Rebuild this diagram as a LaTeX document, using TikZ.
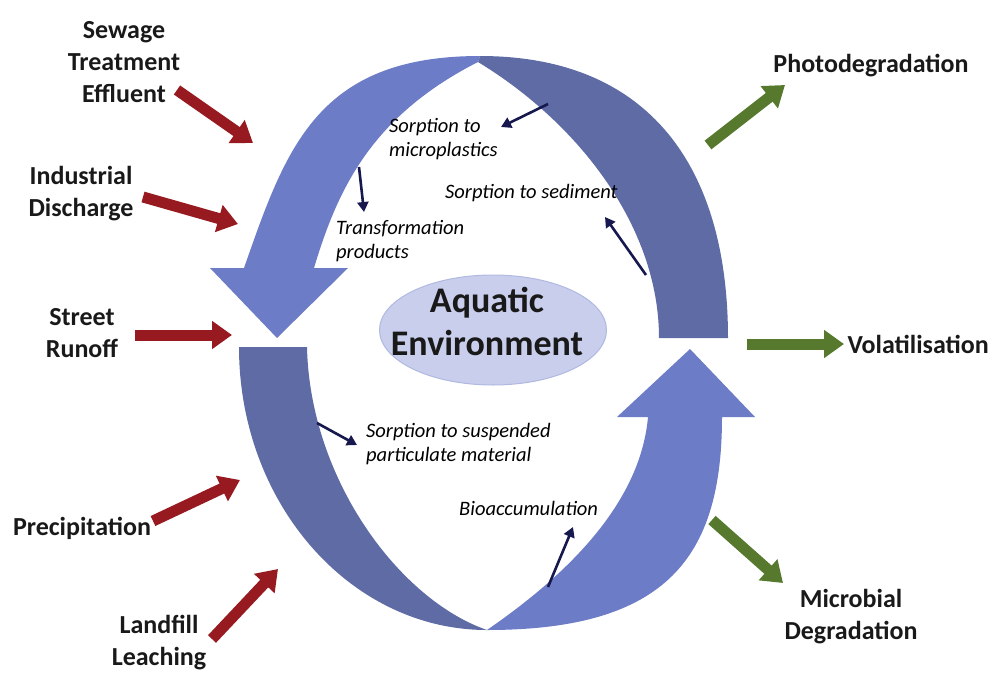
\documentclass[tikz,border=0pt]{standalone}
\usepackage{fontspec}
\setmainfont{Carlito}
\usepackage{tikz}
\usetikzlibrary{arrows.meta,shapes.geometric}
\definecolor{lightband}{RGB}{108,124,198}
\definecolor{darkband}{RGB}{95,107,165}
\definecolor{envfill}{RGB}{200,206,236}
\definecolor{envline}{RGB}{176,185,224}
\definecolor{inred}{RGB}{150,26,32}
\definecolor{outgreen}{RGB}{86,121,46}
\definecolor{navy}{RGB}{22,24,78}

\begin{document}
\begin{tikzpicture}[x=1pt,y=-1pt,
  inarrow/.style={line width=11pt,inred,-{Triangle[width=27pt,length=20pt]}},
  outarrow/.style={line width=11pt,outgreen,-{Triangle[width=27pt,length=20pt]}},
  thinarrow/.style={line width=2.6pt,navy,-{Triangle[width=11pt,length=10pt]}},
  source/.style={font=\fontsize{26}{32}\selectfont\bfseries,align=center,text=black!90},
  process/.style={font=\fontsize{20.5}{24}\selectfont\itshape,align=left,anchor=west,text=black,inner sep=0pt}]
  \useasboundingbox (0,0) rectangle (997,673);

  % the loop: four curved band arrows
  \coordinate (top) at (480,56);
  \coordinate (apex) at (478,62);
  \coordinate (bot) at (487,630);
  \fill[darkband] (top) .. controls (650,56) and (728,168) .. (728,338) -- (659,338)
    .. controls (659,228) and (580,124) .. (apex) -- cycle;
  \fill[lightband] (top) .. controls (317,56) and (286,148) .. (244,268) -- (210,268) -- (277,338)
    -- (348,268) -- (314,268) .. controls (338,188) and (372,116) .. (apex) -- cycle;
  \fill[darkband] (239,347) -- (307,347) .. controls (310,480) and (400,600) .. (bot)
    .. controls (350,630) and (239,503) .. (239,347) -- cycle;
  \fill[lightband] (bot) .. controls (667,630) and (722,557) .. (722,417) -- (755,417) -- (690,349)
    -- (617,417) -- (648,417) .. controls (640,507) and (561,579) .. (bot) -- cycle;

  % centre
  \node[ellipse,fill=envfill,draw=envline,line width=1pt,minimum width=227pt,minimum height=110pt] (env) at (493,330) {};
  \node[font=\fontsize{36}{43}\selectfont\bfseries,align=center,text=black!90] (envtext) at (487,321) {Aquatic\\Environment};

  % sources
  \node[source] (sewage) at (124,62) {Sewage\\Treatment\\Effluent};
  \node[source] (industry) at (81,194) {Industrial\\Discharge};
  \node[source] (street) at (82,333) {Street\\Runoff};
  \node[source] (rain) at (82,528) {Precipitation};
  \node[source] (landfill) at (159,643) {Landfill\\Leaching};
  \coordinate (sewage-s) at (177,90);    \coordinate (sewage-e) at (253,143);
  \coordinate (industry-s) at (143,197); \coordinate (industry-e) at (238,224);
  \coordinate (street-s) at (135,335);   \coordinate (street-e) at (232,335);
  \coordinate (rain-s) at (153,521);     \coordinate (rain-e) at (240,480);
  \coordinate (landfill-s) at (212,639); \coordinate (landfill-e) at (278,569);
  \foreach \nm in {sewage,industry,street,rain,landfill}
    \draw[inarrow] (\nm-s) -- (\nm-e);

  % sinks
  \node[source] (photo) at (871,66) {Photodegradation};
  \node[source,anchor=west] (volat) at (844,344) {Volatilisation};
  \node[source] (microbe) at (851,617) {Microbial\\Degradation};
  \coordinate (photo-s) at (708,145);    \coordinate (photo-e) at (785,85);
  \coordinate (volat-s) at (747,344);
  \coordinate (microbe-s) at (712,520);  \coordinate (microbe-e) at (783,583);
  \draw[outarrow] (photo-s) -- (photo-e);
  \draw[outarrow] (volat-s) -- (volat.west);
  \draw[outarrow] (microbe-s) -- (microbe-e);

  % processes inside the loop
  \node[process] (micro) at (389,139) {Sorption to\\microplastics};
  \node[process] (transf) at (336,241) {Transformation\\products};
  \node[process] (sedim) at (445,193) {Sorption to sediment};
  \node[process] (susp) at (366,444) {Sorption to suspended\\particulate material};
  \node[process] (bioacc) at (459,508) {Bioaccumulation};
  \coordinate (micro-s) at (548,104);  \coordinate (micro-e) at (501,127);
  \coordinate (transf-s) at (359,167); \coordinate (transf-e) at (364,212);
  \coordinate (sedim-s) at (646,275);  \coordinate (sedim-e) at (605,217);
  \coordinate (susp-s) at (317,423);   \coordinate (susp-e) at (357,445);
  \coordinate (bioacc-s) at (548,587); \coordinate (bioacc-e) at (573,527);
  \foreach \nm in {micro,transf,sedim,susp,bioacc}
    \draw[thinarrow] (\nm-s) -- (\nm-e);
\end{tikzpicture}
\end{document}
